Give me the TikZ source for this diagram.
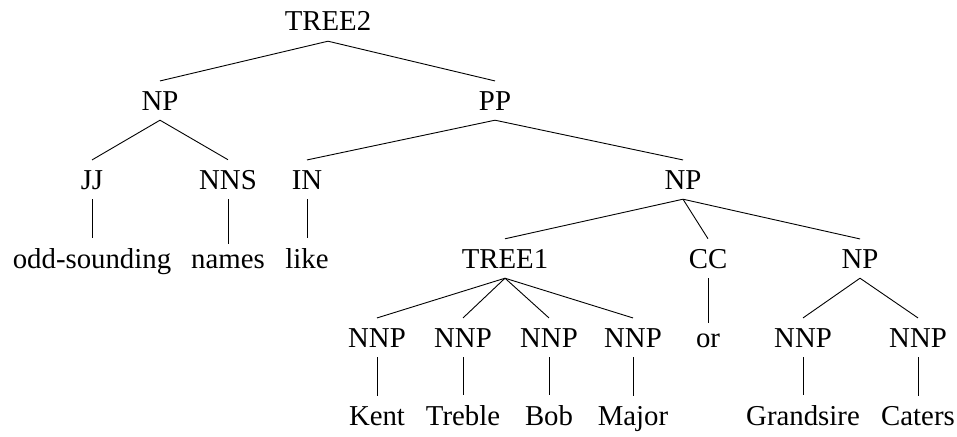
\documentclass[tikz,border=0pt]{standalone}
\usepackage{fontspec}
\setmainfont{Liberation Serif}
\begin{document}
\begin{tikzpicture}[x=1pt,y=-1pt,
  tnode/.style={anchor=base,inner xsep=2pt,inner ysep=10pt,font=\fontsize{28.8}{34}\selectfont},
  branch/.style={line width=0.9pt}]
\useasboundingbox (0,0) rectangle (957,436);
% row 1
\node[tnode] (tree2) at (328,31) {TREE2};
% row 2
\node[tnode] (np1) at (160,110) {NP};
\node[tnode] (pp) at (495,110) {PP};
% row 3
\node[tnode] (jj) at (92,189) {JJ};
\node[tnode] (nns) at (228,189) {NNS};
\node[tnode] (in) at (307,189) {IN};
\node[tnode] (np2) at (683,189) {NP};
% row 4
\node[tnode] (w1) at (92,268) {odd-sounding};
\node[tnode] (w2) at (228,268) {names};
\node[tnode] (w3) at (307,268) {like};
\node[tnode] (tree1) at (505,268) {TREE1};
\node[tnode] (cc) at (708,268) {CC};
\node[tnode] (np3) at (860,268) {NP};
% row 5
\node[tnode] (nnp1) at (377,347) {NNP};
\node[tnode] (nnp2) at (463,347) {NNP};
\node[tnode] (nnp3) at (549,347) {NNP};
\node[tnode] (nnp4) at (633,347) {NNP};
\node[tnode] (w4) at (708,347) {or};
\node[tnode] (nnp5) at (803,347) {NNP};
\node[tnode] (nnp6) at (918,347) {NNP};
% row 6
\node[tnode] (w5) at (377,425) {Kent};
\node[tnode] (w6) at (463,425) {Treble};
\node[tnode] (w7) at (549,425) {Bob};
\node[tnode] (w8) at (633,425) {Major};
\node[tnode] (w9) at (803,425) {Grandsire};
\node[tnode] (w10) at (918,425) {Caters};
% branches
\foreach \p/\c in {tree2/np1, tree2/pp, np1/jj, np1/nns, pp/in, pp/np2,
  jj/w1, nns/w2, in/w3, np2/tree1, np2/cc, np2/np3,
  tree1/nnp1, tree1/nnp2, tree1/nnp3, tree1/nnp4, cc/w4, np3/nnp5, np3/nnp6,
  nnp1/w5, nnp2/w6, nnp3/w7, nnp4/w8, nnp5/w9, nnp6/w10}
  \draw[branch] (\p.south) -- (\c.north);
\end{tikzpicture}
\end{document}
